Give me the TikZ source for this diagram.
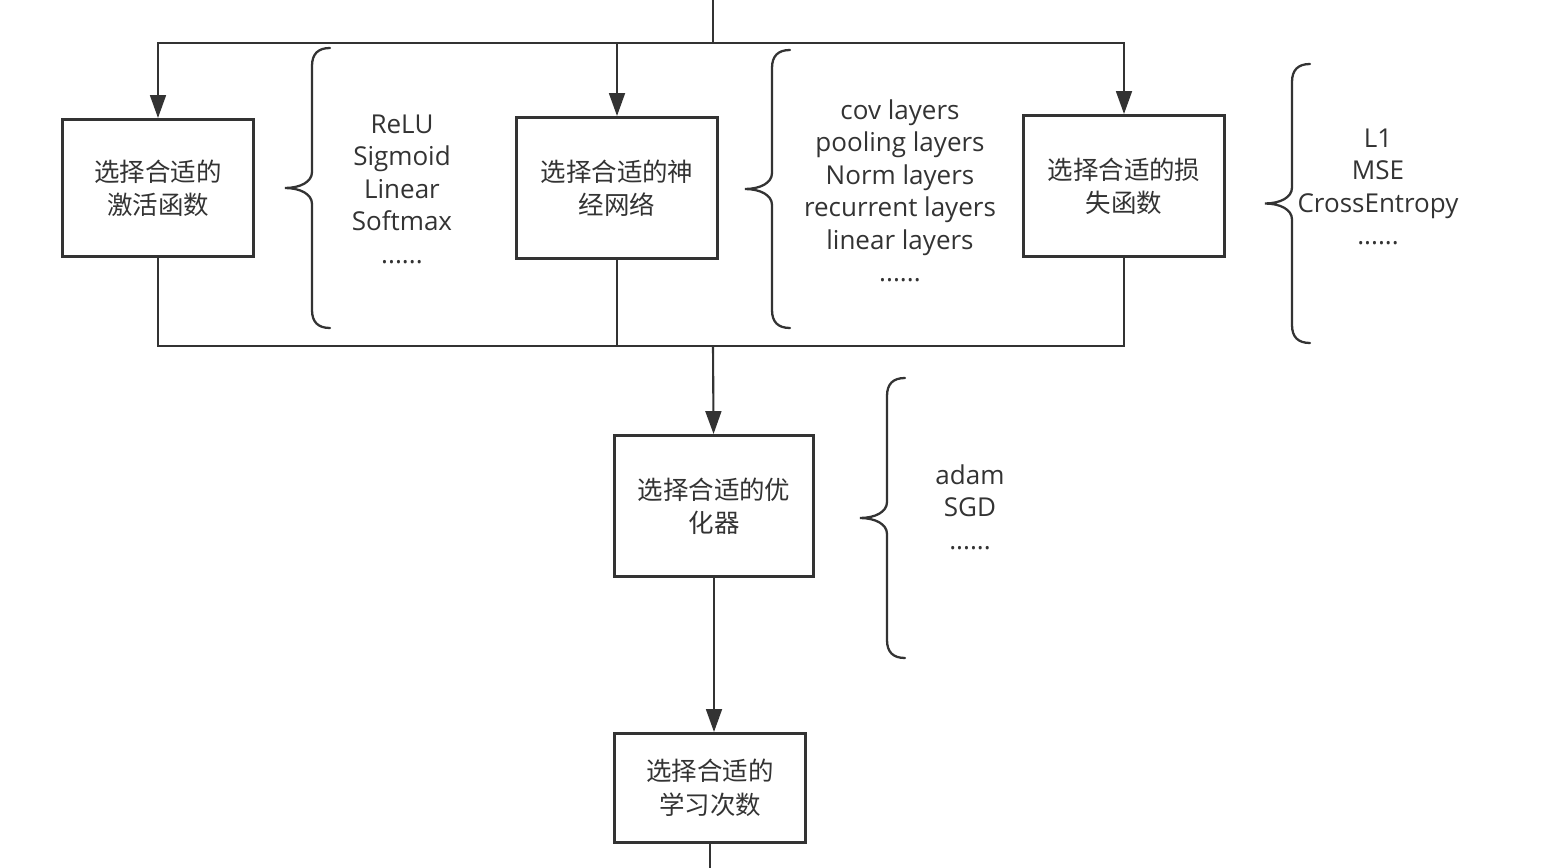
\documentclass[tikz,border=0pt]{standalone}
\usepackage{fontspec}
\setmainfont{Open Sans}
\newfontfamily\cjk{Noto Sans CJK SC}
\usepackage{tikz}
\usetikzlibrary{arrows.meta,positioning}
\definecolor{ink}{HTML}{333333}
\tikzset{stepbox/.style={draw=ink,line width=1.7pt,minimum width=#1,align=center,text=ink,font=\cjk\fontsize{14.5}{19}\selectfont},
         link/.style={draw=ink,line width=1.2pt},
         flow/.style={link,-{Triangle[length=13pt,width=9pt]}},
         curly/.style={draw=ink,line width=1.3pt,line cap=round},
         choices/.style={align=center,text=ink,font=\fontsize{14.8}{18.5}\selectfont}}
% curly bracket opening to the right: end x, top y, bottom y
\newcommand{\optbrace}[3]{%
  \pgfmathsetmacro\bmid{(#2+#3)/2}
  \draw[curly] (#1,#2) .. controls (#1-12,#2) and (#1-18,#2+6) .. (#1-18,#2+18)
    -- (#1-18,\bmid-16) .. controls (#1-18,\bmid-6) and (#1-30,\bmid) .. (#1-45,\bmid)
    .. controls (#1-30,\bmid) and (#1-18,\bmid+6) .. (#1-18,\bmid+16)
    -- (#1-18,#3-18) .. controls (#1-18,#3-6) and (#1-12,#3) .. (#1,#3);}

\begin{document}
\begin{tikzpicture}[x=0.02cm,y=-0.02cm]
                \useasboundingbox (0,0) rectangle (1542,868);
                \node[stepbox=3.84cm,minimum height=2.74cm] (act) at (158,188) {选择合适的\\激活函数};
                \node[stepbox=4.02cm,minimum height=2.82cm] (net) at (617,188) {选择合适的神\\经网络};
                \node[stepbox=4.02cm,minimum height=2.82cm] (loss) at (1124,186) {选择合适的损\\失函数};
                \node[stepbox=4.00cm,minimum height=2.82cm] (opt) at (714,506) {选择合适的优\\化器};
                \node[stepbox=3.84cm,minimum height=2.18cm] (epoch) at (710,788) {选择合适的\\学习次数};
                % branch and merge points
                \coordinate (top) at (713,0);
                \coordinate (split) at (713,43);
                \coordinate (merge) at (713,346);
                \coordinate (bottom) at (710,868);
                \draw[link] (top) -- (split);
                \draw[flow] (split) -| (act);
                \draw[flow] (split) -| (net);
                \draw[flow] (split) -| (loss);
                \draw[link] (act) |- (merge);
                \draw[link] (net) |- (merge);
                \draw[link] (loss) |- (merge);
                \draw[flow] (merge) -- (opt);
                \draw[flow] (opt.south) -- (opt.south |- epoch.north);
                \draw[link] (epoch.south -| bottom) -- (bottom);
                % option lists
                \optbrace{330}{48}{328}
                \node[choices] (actlist) at (402,189) {ReLU\\Sigmoid\\Linear\\Softmax\\......};
                \optbrace{790}{50}{328}
                \node[choices] (netlist) at (900,191) {cov layers\\pooling layers\\Norm layers\\recurrent layers\\linear layers\\......};
                \optbrace{1310}{64}{343}
                \node[choices] (losslist) at (1378,187) {L1\\MSE\\CrossEntropy\\......};
                \optbrace{905}{378}{658}
                \node[choices] (optlist) at (970,507) {adam\\SGD\\......};
            \end{tikzpicture}
\end{document}
